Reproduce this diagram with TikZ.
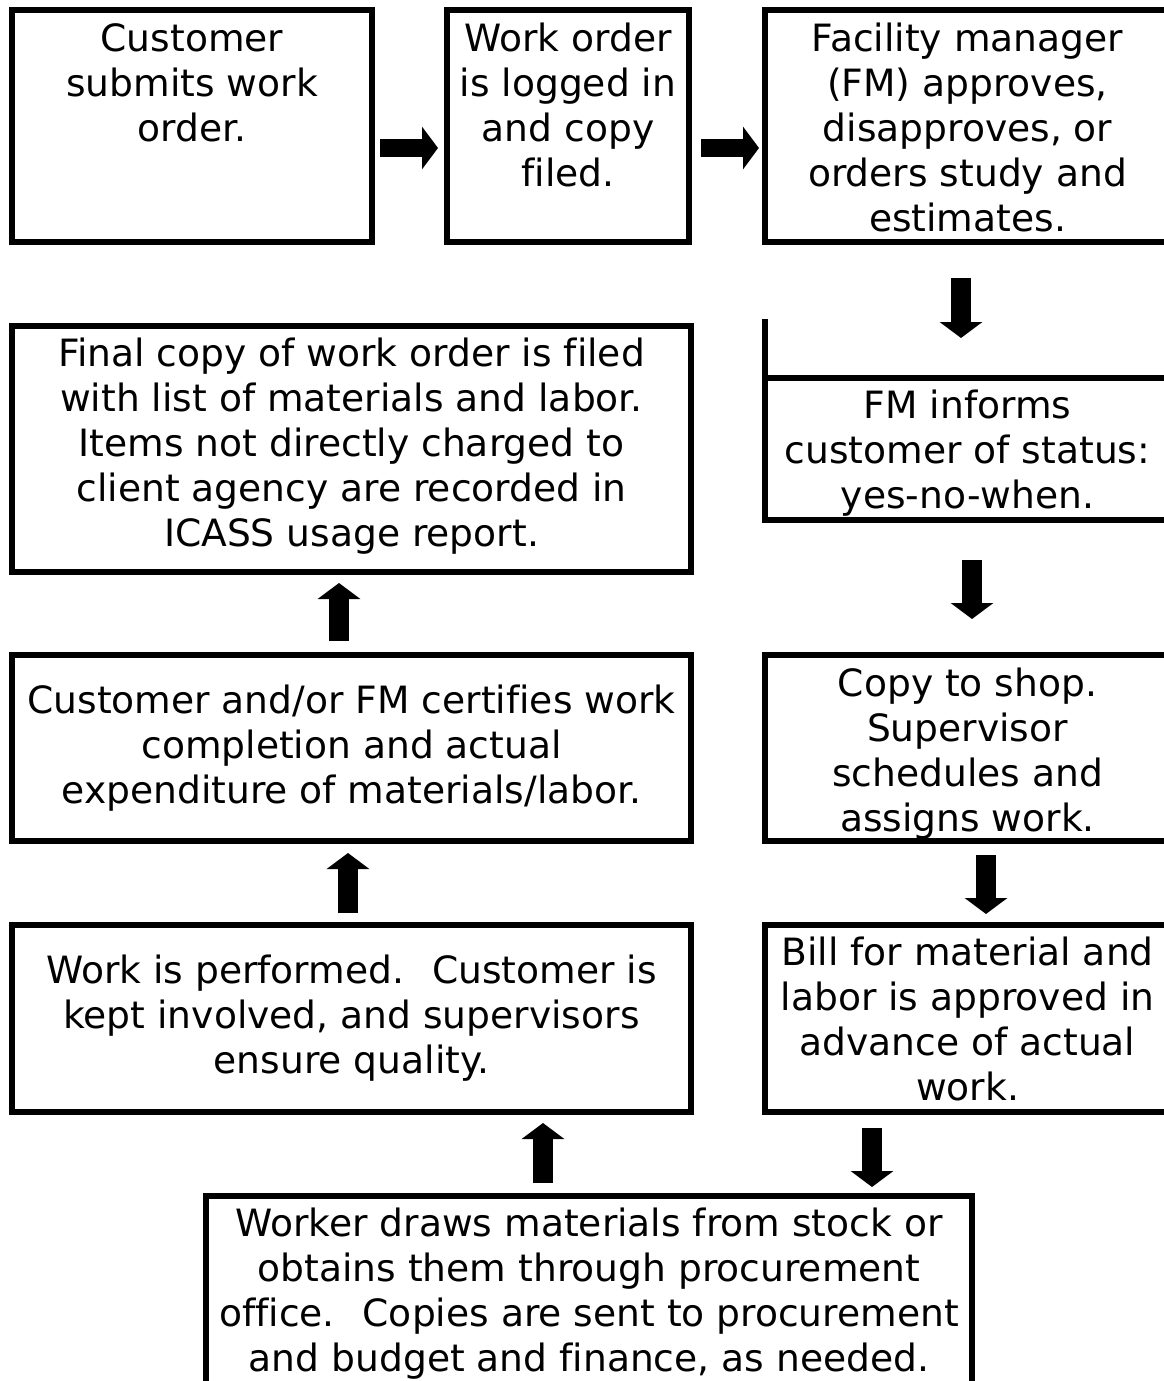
\documentclass[tikz,border=0pt]{standalone}
\usepackage{fontspec}
\setmainfont{DejaVu Sans}[Ligatures=NoCommon]
\usetikzlibrary{arrows.meta}
\tikzset{stage/.style={draw,line width=6pt,inner sep=0pt},txt/.style={font=\fontsize{37.6}{45}\selectfont,align=center,inner sep=0pt},toptxt/.style={txt,anchor=north},blk/.style={line width=20pt,-{Triangle[width=42pt,length=16pt]}}}

\begin{document}
\begin{tikzpicture}[x=1pt,y=-1pt]
\useasboundingbox[fill=white] (0,0) rectangle (1164,1381);
\clip (0,0) rectangle (1164,1381);
% top row
\node[stage,minimum width=360pt,minimum height=232pt] (cust) at (192,126) {};
\node[stage,minimum width=242pt,minimum height=232pt] (logged) at (568,126) {};
\node[stage,minimum width=405pt,minimum height=232pt] (fmapp) at (967.5,126) {};
% right column
\node[stage,minimum width=405pt,minimum height=142pt] (fminf) at (967.5,449) {};
\node[stage,minimum width=405pt,minimum height=186pt] (shop) at (967.5,748) {};
\node[stage,minimum width=405pt,minimum height=187pt] (bill) at (967.5,1018.5) {};
% left column and bottom
\node[stage,minimum width=679pt,minimum height=246pt] (final) at (351.5,449) {};
\node[stage,minimum width=679pt,minimum height=186pt] (cert) at (351.5,748) {};
\node[stage,minimum width=679pt,minimum height=187pt] (perf) at (351.5,1018.5) {};
\node[stage,minimum width=766pt,minimum height=224pt] (worker) at (589,1308) {};
\draw[line width=6pt] ([xshift=3pt]fminf.north west) -- ++(0,-56);
% texts
\node[toptxt] (custT) at ([yshift=-16pt]cust.north) {Customer\\submits work\\order.};
\node[toptxt] (loggedT) at ([yshift=-16pt]logged.north) {Work order\\is logged in\\and copy\\filed.};
\node[toptxt] (fmappT) at ([yshift=-16pt]fmapp.north) {Facility manager\\(FM) approves,\\disapproves, or\\orders study and\\estimates.};
\node[toptxt] (fminfT) at ([yshift=-15pt]fminf.north) {FM informs\\customer of status:\\yes-no-when.};
\node[toptxt] (shopT) at ([yshift=-16pt]shop.north) {Copy to shop.\\Supervisor\\schedules and\\assigns work.};
\node[toptxt] (billT) at ([yshift=-15pt]bill.north) {Bill for material and\\labor is approved in\\advance of actual\\work.};
\node[toptxt] (finalT) at ([yshift=-15pt]final.north) {Final copy of work order is filed\\with list of materials and labor.\\Items not directly charged to\\client agency are recorded in\\ICASS usage report.};
\node[txt] (certT) at (cert) {Customer and/or FM certifies work\\completion and actual\\expenditure of materials/labor.};
\node[txt] (perfT) at (perf) {Work is performed.~ Customer is\\kept involved, and supervisors\\ensure quality.};
\node[toptxt] (workerT) at ([yshift=-15pt]worker.north) {Worker draws materials from stock or\\obtains them through procurement\\office.~ Copies are sent to procurement\\and budget and finance, as needed.};
% block arrows
\draw[blk,line width=18pt] ([shift={(5,22)}]cust.east) -- ([shift={(-6,22)}]logged.west);
\draw[blk,line width=18pt] ([shift={(9,22)}]logged.east) -- ([shift={(-3,22)}]fmapp.west);
\draw[blk] ([shift={(-6.5,33)}]fmapp.south) -- ([shift={(-6.5,-37)}]fminf.north);
\draw[blk] ([shift={(4.5,37)}]fminf.south) -- ([shift={(4.5,-33)}]shop.north);
\draw[blk] ([shift={(18.5,11)}]shop.south) -- ([shift={(18.5,-8)}]bill.north);
\draw[blk] ([shift={(-95.5,13)}]bill.south) -- ([shift={(283,-6)}]worker.north);
\draw[blk] ([shift={(-46,-10)}]worker.north) -- ([shift={(191.5,8)}]perf.south);
\draw[blk] ([shift={(-3.5,-9)}]perf.north) -- ([shift={(-3.5,9)}]cert.south);
\draw[blk] ([shift={(-12.5,-11)}]cert.north) -- ([shift={(-12.5,8)}]final.south);
\end{tikzpicture}
\end{document}
